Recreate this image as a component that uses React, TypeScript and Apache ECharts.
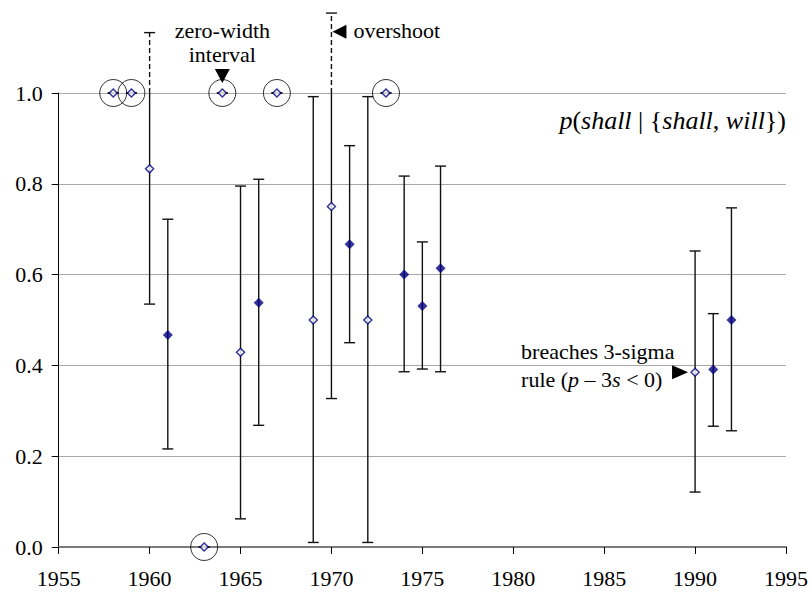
import React, { useEffect, useRef } from "react";
import * as echarts from "echarts";

const years = [1958, 1959, 1960, 1961, 1963, 1964, 1965, 1966, 1967, 1969, 1970, 1971, 1972, 1973, 1974, 1975, 1976, 1990, 1991, 1992];
const pValues = [1, 1, 0.833, 0.467, 0, 1, 0.429, 0.538, 1, 0.5, 0.75, 0.667, 0.5, 1, 0.6, 0.531, 0.614, 0.385, 0.391, 0.5];
const lowerBounds = [1, 1, 0.535, 0.216, 0, 1, 0.062, 0.268, 1, 0.01, 0.327, 0.45, 0.01, 1, 0.386, 0.392, 0.386, 0.121, 0.266, 0.256];
const upperBounds = [1, 1, 1.133, 0.722, 0, 1, 0.795, 0.81, 1, 0.992, 1.176, 0.884, 0.992, 1, 0.817, 0.672, 0.839, 0.652, 0.514, 0.747];
// true = breaches the 3-sigma rule (open marker)
const breaches = [true, true, true, false, true, true, true, false, true, true, true, false, true, true, false, false, false, true, false, false];
const circledYears = [1958, 1959, 1963, 1964, 1967, 1973];
const xTicks = { min: 1955, max: 1995, interval: 5 };
const yTicks = { min: 0, max: 1, interval: 0.2 };

const FONT = "Liberation Serif";
const NAVY = "#000080";

export default function App() {
  const ref = useRef<HTMLDivElement>(null);
  useEffect(() => {
    if (!ref.current) return;
    const chart = echarts.init(ref.current, null, { renderer: "svg" });
    const errData = years.map((y, i) => [y, lowerBounds[i], upperBounds[i]]);
    const filled = years.map((y, i) => (!breaches[i] ? [y, pValues[i]] : null)).filter(Boolean);
    const open = years.map((y, i) => (breaches[i] ? [y, pValues[i]] : null)).filter(Boolean);
    const circled = circledYears.map((y) => [y, pValues[years.indexOf(y)]]);

    chart.setOption({
      animation: false,
      backgroundColor: "#ffffff",
      textStyle: { fontFamily: FONT },
      grid: { left: 58.7, right: 22.7, top: 93, bottom: 45 },
      xAxis: {
        type: "value",
        min: xTicks.min,
        max: xTicks.max,
        interval: xTicks.interval,
        axisLine: { show: true, lineStyle: { color: "#7a7a7a", width: 2 } },
        axisTick: { show: true, length: 7, lineStyle: { color: "#000", width: 1 } },
        axisLabel: { fontFamily: FONT, fontSize: 22, color: "#000", margin: 20, formatter: (v: number) => String(v) },
        splitLine: { show: false },
      },
      yAxis: {
        type: "value",
        min: yTicks.min,
        max: yTicks.max,
        interval: yTicks.interval,
        axisLine: { show: true, lineStyle: { color: "#000", width: 1 } },
        axisTick: { show: true, length: 7, lineStyle: { color: "#000", width: 1 } },
        axisLabel: {
          fontFamily: FONT,
          fontSize: 22,
          color: "#000",
          margin: 16,
          formatter: (v: number) => v.toFixed(1),
        },
        splitLine: { show: true, lineStyle: { color: "#a8a8a8", width: 1 } },
      },
      series: [
        {
          type: "custom",
          clip: false,
          z: 2,
          encode: { x: 0, y: [1, 2] },
          data: errData,
          renderItem: (params: any, api: any) => {
            const x = api.value(0);
            const lo = api.value(1);
            const hi = api.value(2);
            const pLo = api.coord([x, lo]);
            const pHi = api.coord([x, hi]);
            const pTop = api.coord([x, Math.min(hi, 1)]);
            const cap = 5.5;
            const st = { stroke: "#111", lineWidth: 1.4 };
            const children: any[] = [];
            children.push({ type: "line", shape: { x1: pLo[0], y1: pLo[1], x2: pTop[0], y2: pTop[1] }, style: st });
            if (hi > 1) {
              children.push({
                type: "line",
                shape: { x1: pTop[0], y1: pTop[1], x2: pHi[0], y2: pHi[1] },
                style: { ...st, lineDash: [5, 3] },
              });
            }
            children.push({ type: "line", shape: { x1: pLo[0] - cap, y1: pLo[1], x2: pLo[0] + cap, y2: pLo[1] }, style: st });
            children.push({ type: "line", shape: { x1: pHi[0] - cap, y1: pHi[1], x2: pHi[0] + cap, y2: pHi[1] }, style: st });
            return { type: "group", children };
          },
        },
        {
          type: "scatter",
          data: circled,
          symbol: "circle",
          symbolSize: 27,
          clip: false,
          z: 3,
          itemStyle: { color: "rgba(0,0,0,0)", borderColor: "#000", borderWidth: 1 },
          silent: true,
        },
        {
          type: "scatter",
          data: open,
          symbol: "diamond",
          symbolSize: 8,
          clip: false,
          z: 4,
          itemStyle: { color: "#fff", borderColor: NAVY, borderWidth: 1.5 },
        },
        {
          type: "scatter",
          data: filled,
          symbol: "diamond",
          symbolSize: 10,
          clip: false,
          z: 4,
          itemStyle: { color: NAVY },
        },
      ],
    });

    const px = (x: number, y: number) => chart.convertToPixel({ gridIndex: 0 }, [x, y]) as number[];
    const zw = px(1964, 1);
    const ov = px(1970, 1.135);
    const br = px(1990, 0.385);
    const title = px(1995, 0.94);
    const textBase = { fontFamily: FONT, fontSize: 22, fill: "#000" };
    const italic = { fontFamily: FONT, fontSize: 22, fontStyle: "italic", fill: "#000" };

    chart.setOption({
      graphic: [
        {
          type: "text",
          x: zw[0],
          y: zw[1] - 51,
          style: { ...textBase, text: "zero-width\ninterval", align: "center", verticalAlign: "middle", lineHeight: 24 },
        },
        {
          type: "polygon",
          shape: { points: [[zw[0] - 7.5, zw[1] - 24], [zw[0] + 7.5, zw[1] - 24], [zw[0], zw[1] - 10]] },
          style: { fill: "#000" },
        },
        {
          type: "polygon",
          shape: { points: [[ov[0] + 1, ov[1]], [ov[0] + 15, ov[1] - 7], [ov[0] + 15, ov[1] + 7]] },
          style: { fill: "#000" },
        },
        {
          type: "text",
          x: ov[0] + 22,
          y: ov[1] - 1,
          style: { ...textBase, text: "overshoot", align: "left", verticalAlign: "middle" },
        },
        {
          type: "polygon",
          shape: { points: [[br[0] - 7, br[1]], [br[0] - 23, br[1] - 7], [br[0] - 23, br[1] + 7]] },
          style: { fill: "#000" },
        },
        {
          type: "text",
          x: br[0] - 174,
          y: br[1] - 21,
          style: { ...textBase, text: "breaches 3-sigma", align: "left", verticalAlign: "middle" },
        },
        {
          type: "text",
          x: br[0] - 174,
          y: br[1] + 7,
          style: {
            ...textBase,
            text: "rule ({i|p} \u2013 3{i|s} < 0)",
            align: "left",
            verticalAlign: "middle",
            rich: { i: italic },
          },
        },
        {
          type: "text",
          x: title[0],
          y: title[1],
          style: {
            ...textBase,
            fontSize: 26,
            text: "{i|p}({i|shall} | {{i|shall}, {i|will}})",
            align: "right",
            verticalAlign: "middle",
            rich: { i: { ...italic, fontSize: 26 } },
          },
        },
      ],
    });

    return () => chart.dispose();
  }, []);
  return <div ref={ref} style={{ position: "absolute", left: 0, top: 0, width: 811, height: 592 }} />;
}
